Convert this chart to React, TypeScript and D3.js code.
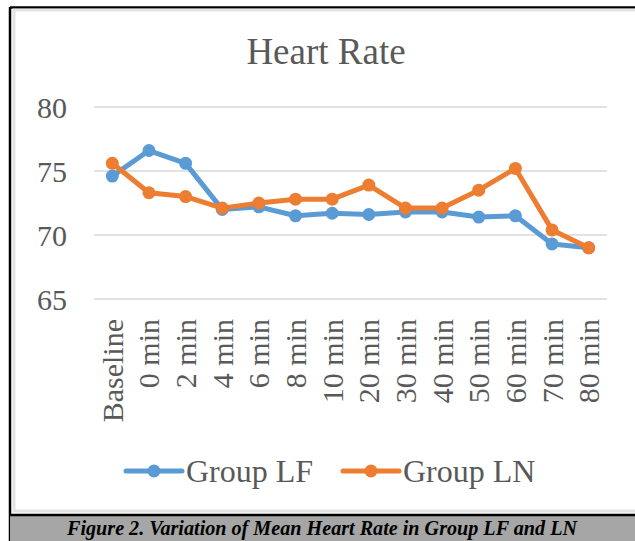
import React from "react";
import * as d3 from "d3";

const categories = ["Baseline", "0 min", "2 min", "4 min", "6 min", "8 min", "10 min", "20 min", "30 min", "40 min", "50 min", "60 min", "70 min", "80 min"];
const groupLF = [74.6, 76.6, 75.6, 72.0, 72.2, 71.5, 71.7, 71.6, 71.8, 71.8, 71.4, 71.5, 69.3, 69.0];
const groupLN = [75.6, 73.3, 73.0, 72.1, 72.5, 72.8, 72.8, 73.9, 72.1, 72.1, 73.5, 75.2, 70.4, 69.0];
const yTicks = [65, 70, 75, 80];

const series = [
  { name: "Group LF", values: groupLF, color: "#5B9BD5" },
  { name: "Group LN", values: groupLN, color: "#ED7D31" },
];

const W = 635;
const H = 541;
const font = "'Liberation Serif', 'Times New Roman', serif";
const textColor = "#595959";

const App = () => {
  const x = d3.scaleBand().domain(categories).range([94, 607]);
  const y = d3.scaleLinear().domain([65, 80]).range([299, 107]);
  const cx = (c) => x(c) + x.bandwidth() / 2;

  const line = d3.line()
    .x((d, i) => cx(categories[i]))
    .y((d) => y(d));

  const legendX = [126, 343];

  return (
    <svg width={W} height={H} style={{ position: "absolute", left: 0, top: 0, background: "#fff" }}>
      {/* outer black frame */}
      <line x1={10} y1={7.5} x2={W} y2={7.5} stroke="#000" strokeWidth={2.5} />
      <line x1={10} y1={7} x2={10} y2={H} stroke="#000" strokeWidth={2.5} />
      {/* chart area light frame */}
      <rect x={14} y={10} width={W} height={501} fill="#fff" stroke="#e3e3e3" strokeWidth={3} />

      <text x={326} y={64} textAnchor="middle" fontFamily={font} fontSize={37} fill={textColor}>
        Heart Rate
      </text>

      {yTicks.map((t) => (
        <g key={t}>
          <line x1={94} x2={607} y1={y(t)} y2={y(t)} stroke="#d9d9d9" strokeWidth={1.5} />
          <text x={67} y={y(t)} dy="0.35em" textAnchor="end" fontFamily={font} fontSize={30} fill={textColor}>
            {t}
          </text>
        </g>
      ))}

      {categories.map((c) => (
        <text
          key={c}
          transform={`translate(${cx(c)},319) rotate(-90)`}
          dy="0.35em"
          textAnchor="end"
          fontFamily={font}
          fontSize={30}
          fill={textColor}
        >
          {c}
        </text>
      ))}

      {series.map((s) => (
        <g key={s.name}>
          <path d={line(s.values)} fill="none" stroke={s.color} strokeWidth={5} strokeLinejoin="round" strokeLinecap="round" />
          {s.values.map((v, i) => (
            <circle key={i} cx={cx(categories[i])} cy={y(v)} r={6.5} fill={s.color} />
          ))}
        </g>
      ))}

      {series.map((s, i) => (
        <g key={s.name} transform={`translate(${legendX[i]},471)`}>
          <line x1={0} x2={56} y1={0} y2={0} stroke={s.color} strokeWidth={5} strokeLinecap="round" />
          <circle cx={28} cy={0} r={6.5} fill={s.color} />
          <text x={60} y={0} dy="0.35em" fontFamily={font} fontSize={32} fill={textColor}>
            {s.name}
          </text>
        </g>
      ))}

      {/* caption bar */}
      <rect x={10} y={515} width={W} height={H - 515} fill="#a6a6a6" />
      <line x1={10} x2={W} y1={515} y2={515} stroke="#000" strokeWidth={2.5} />
      <text
        x={322}
        y={535}
        textAnchor="middle"
        fontFamily={font}
        fontWeight="bold"
        fontStyle="italic"
        fontSize={20}
        textLength={510}
        lengthAdjust="spacingAndGlyphs"
        fill="#000"
      >
        Figure 2. Variation of Mean Heart Rate in Group LF and LN
      </text>
    </svg>
  );
};

export default App;
